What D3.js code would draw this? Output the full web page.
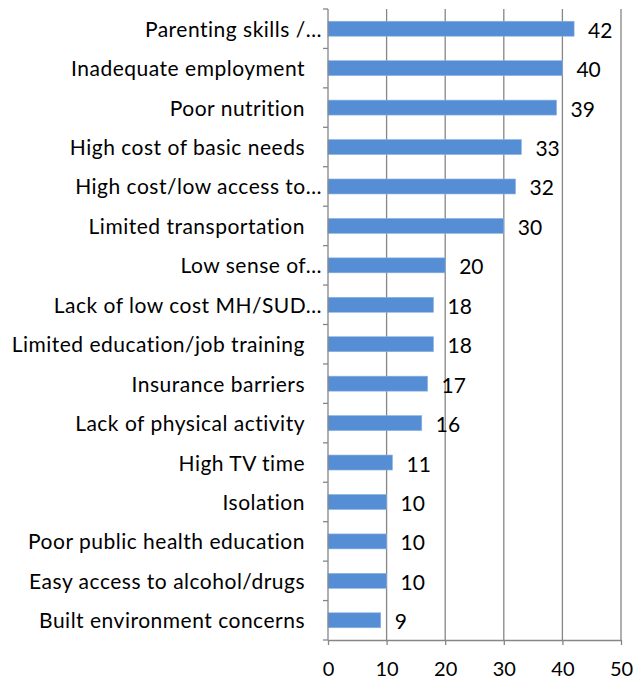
<!DOCTYPE html>
<html><head><meta charset="utf-8">
<script src="https://cdn.jsdelivr.net/npm/d3@7"></script>
<style>body{margin:0;background:#fff}svg text{font-family:Lato,"Liberation Sans",sans-serif;font-variant-ligatures:none}</style>
</head><body><svg id="c" width="636" height="682"></svg>
<script>
const categories = ["Parenting skills /…","Inadequate employment","Poor nutrition","High cost of basic needs","High cost/low access to…","Limited transportation","Low sense of…","Lack of low cost MH/SUD…","Limited education/job training","Insurance barriers","Lack of physical activity","High TV time","Isolation","Poor public health education","Easy access to alcohol/drugs","Built environment concerns"];
const values = [42,40,39,33,32,30,20,18,18,17,16,11,10,10,10,9];
const xTicks = [0,10,20,30,40,50];

(function(){
const svg = d3.select("#c");
const L = 328, R = 621, T = 9, B = 640;
const FS = 21;
const x = d3.scaleLinear().domain([0,50]).range([L,R]);
const y = d3.scaleBand().domain(categories).range([T,B]).paddingInner(0.62).paddingOuter(0.31);
const step = y.step();

svg.append("g").selectAll("line").data(xTicks.slice(1)).join("line")
  .attr("x1",d=>x(d)).attr("x2",d=>x(d)).attr("y1",T).attr("y2",B)
  .attr("stroke","#868686").attr("stroke-width",1.3);

svg.append("g").selectAll("rect").data(values).join("rect")
  .attr("x",x(0)).attr("y",(d,i)=>y(categories[i]))
  .attr("width",d=>x(d)-x(0)).attr("height",y.bandwidth())
  .attr("fill","#558ED5").attr("stroke","#8DB3E2").attr("stroke-width",0.6);

svg.append("g").selectAll("text").data(values).join("text")
  .attr("x",d=>x(d)+14).attr("y",(d,i)=>y(categories[i])+y.bandwidth()/2+9)
  .attr("font-size",FS).attr("fill","#000").text(d=>d);

const xa = svg.append("g").attr("transform",`translate(0,${B})`)
  .call(d3.axisBottom(x).tickValues(xTicks).tickSize(5).tickSizeOuter(0).tickPadding(17));
xa.select(".domain").attr("stroke","#868686").attr("stroke-width",1.3);
xa.selectAll(".tick line").attr("stroke","#868686").attr("stroke-width",1.3);
xa.selectAll("text").attr("font-size",20).attr("fill","#000").attr("font-family","Lato,sans-serif");

svg.append("line").attr("x1",L).attr("x2",L).attr("y1",T).attr("y2",B).attr("stroke","#868686").attr("stroke-width",1.3);
svg.append("g").selectAll("line").data(d3.range(categories.length+1)).join("line")
  .attr("x1",L-5).attr("x2",L).attr("y1",i=>T+i*step).attr("y2",i=>T+i*step)
  .attr("stroke","#868686").attr("stroke-width",1.3);

svg.append("g").selectAll("text").data(categories).join("text")
  .attr("x",d=>d.endsWith("…") ? 322 : 305).attr("y",d=>y(d)+y.bandwidth()/2+8)
  .attr("text-anchor","end").attr("font-size",FS).attr("letter-spacing",0.5).attr("fill","#000").text(d=>d);
})();
</script></body></html>
